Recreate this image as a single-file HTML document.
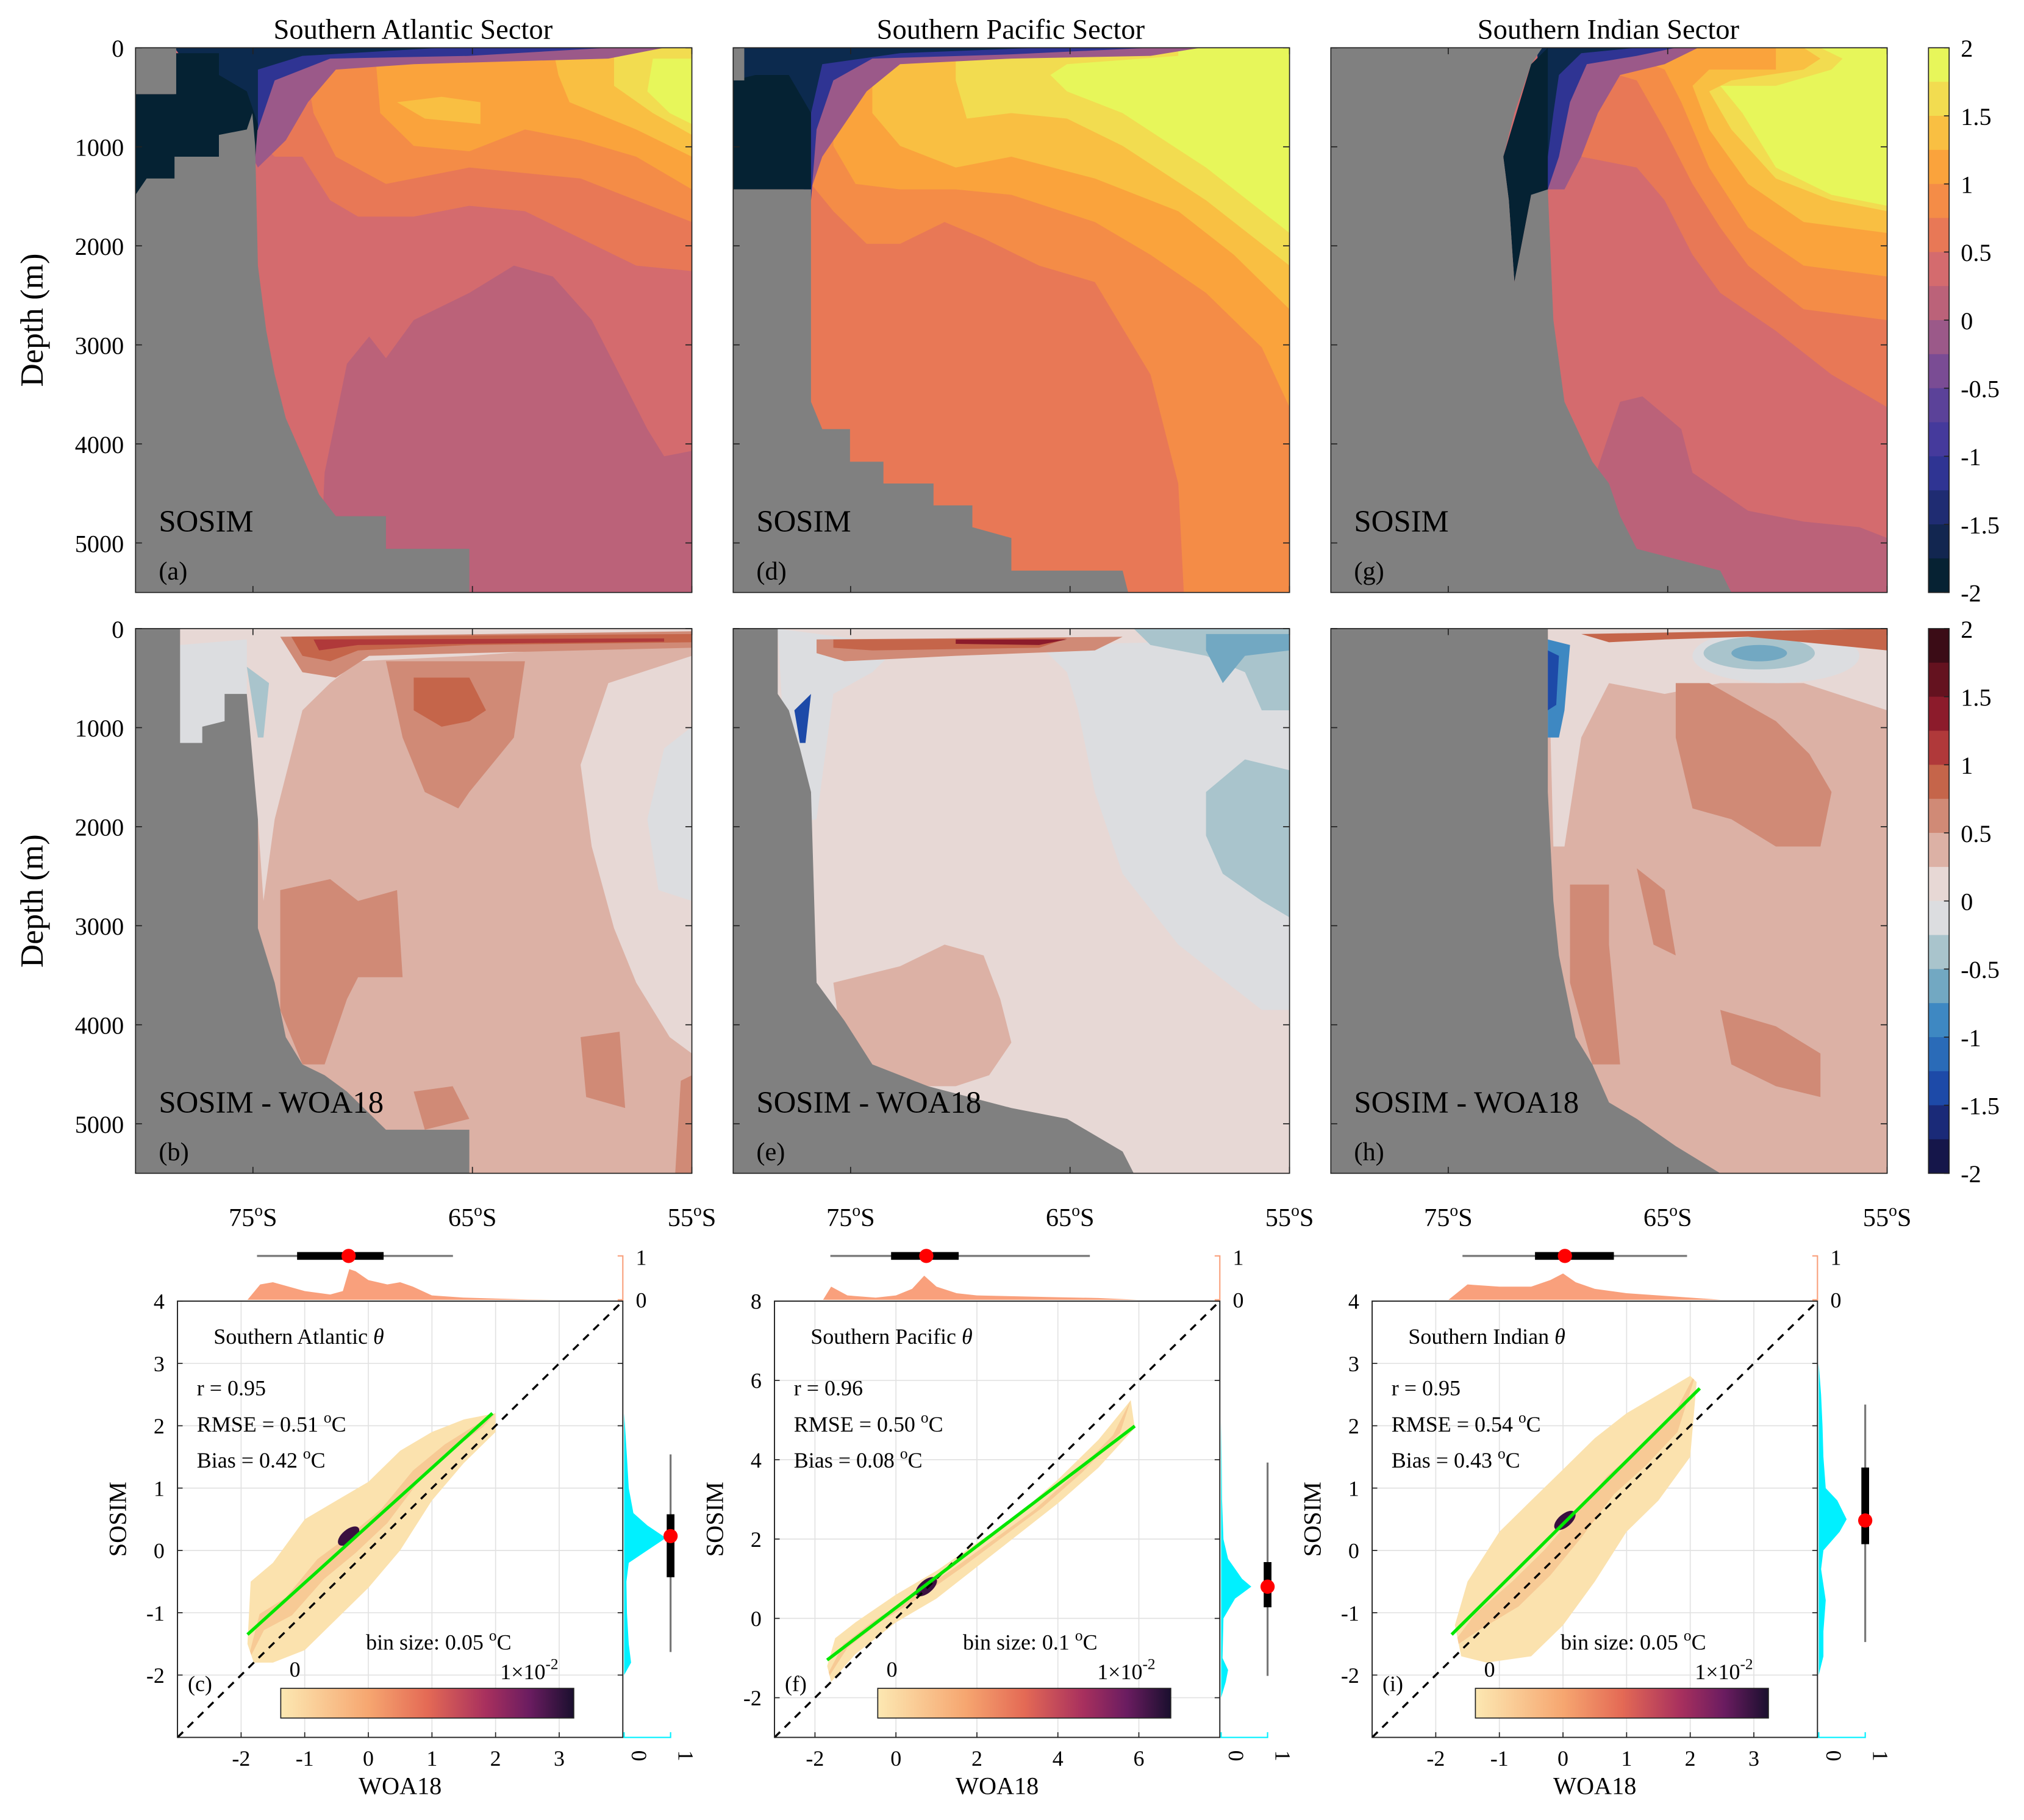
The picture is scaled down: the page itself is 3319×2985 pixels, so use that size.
<!DOCTYPE html>
<html><head><meta charset="utf-8"><style>
html,body{margin:0;padding:0;background:#fff;}
svg{display:block;font-family:"Liberation Serif",serif;}
text{font-family:"Liberation Serif",serif;fill:#000;}
</style></head><body>
<svg id="fig" xmlns="http://www.w3.org/2000/svg" width="3319" height="2985" viewBox="0 0 1568 1410" preserveAspectRatio="none" font-family="Liberation Serif, serif"></svg>
<script>
// ---------- data: scatter stats ----------
const atlStats = ["r = 0.95","RMSE = 0.51","Bias = 0.42","bin size: 0.05"];
const pacStats = ["r = 0.96","RMSE = 0.50","Bias = 0.08","bin size: 0.1"];
const indStats = ["r = 0.95","RMSE = 0.54","Bias = 0.43","bin size: 0.05"];
// fit lines [x1,y1,x2,y2]
const atlFit = [-1.9,-1.35,1.95,2.2];
const pacFit = [-1.7,-1.05,5.9,4.85];
const indFit = [-1.75,-1.35,2.15,2.6];
// density clouds (data coords)
const atlCloud = [[-1.9,-1.5],[-1.85,-0.5],[-1.5,-0.2],[-1,0.5],[-0.5,0.8],[0,1.1],[0.5,1.6],[1,1.9],[1.5,2.1],[2,2.2],[2,1.9],[1.5,1.4],[1,0.8],[0.5,0.0],[0,-0.6],[-0.5,-1.1],[-1,-1.6],[-1.5,-1.8],[-1.8,-1.8]];
const pacCloud = [[-1.7,-1.2],[-1.5,-0.5],[-1,-0.1],[0,0.6],[1,1.2],[2,1.9],[3,2.6],[4,3.5],[5,4.5],[5.8,5.5],[5.9,4.8],[5,3.8],[4,2.9],[3,2.1],[2,1.3],[1,0.5],[0,-0.1],[-1,-0.9],[-1.6,-1.6]];
const indCloud = [[-1.7,-1.2],[-1.5,-0.5],[-1,0.3],[-0.5,0.8],[0,1.3],[0.5,1.8],[1,2.2],[1.5,2.5],[2,2.8],[2.1,2.7],[2,1.5],[1.5,0.8],[1,0.3],[0.5,-0.5],[0,-1.2],[-0.5,-1.7],[-1.2,-1.8],[-1.6,-1.7]];
// boxplots [whiskerLo, boxLo, median, boxHi, whiskerHi]
const atlBoxX = [-1.75,-1.12,-0.31,0.24,1.33];
const atlBoxY = [-1.63,-0.43,0.23,0.58,1.54];
const pacBoxX = [-1.62,-0.12,0.75,1.55,4.79];
const pacBoxY = [-1.45,0.28,0.8,1.42,3.93];
const indBoxX = [-1.58,-0.44,0.03,0.8,1.95];
const indBoxY = [-1.47,0.1,0.48,1.33,2.34];
// marginal densities
const atlTopX = [-1.9,-1.7,-1.5,-1,-0.6,-0.4,-0.3,-0.2,0,0.3,0.5,0.7,1,1.5,2,2.5,3,4];
const atlTopD = [0,0.35,0.4,0.2,0.12,0.2,0.7,0.65,0.45,0.35,0.4,0.3,0.1,0.05,0.03,0.01,0,0];
const pacTopX = [-1.8,-1.6,-1.2,-0.5,0,0.4,0.7,1,1.5,2,3,4,5,6];
const pacTopD = [0,0.3,0.1,0.05,0.1,0.25,0.55,0.3,0.15,0.1,0.08,0.06,0.04,0];
const indTopX = [-1.8,-1.5,-1,-0.5,-0.2,0,0.2,0.5,1,1.5,2,2.5];
const indTopD = [0,0.35,0.3,0.3,0.45,0.6,0.4,0.25,0.15,0.1,0.05,0];
const atlRightY = [-2,-1.8,-1.5,-1,-0.5,-0.2,0,0.2,0.4,0.6,1,1.5,2,2.2];
const atlRightD = [0,0.15,0.1,0.06,0.05,0.1,0.5,0.9,0.5,0.2,0.1,0.06,0.02,0];
const pacRightY = [-2,-1.6,-1.3,-1,0,0.5,0.8,1,1.5,2,3,4,5,6];
const pacRightD = [0,0.1,0.15,0.03,0.05,0.3,0.65,0.45,0.15,0.05,0.02,0.01,0,0];
const indRightY = [-2,-1.7,-1.3,-0.8,-0.3,0,0.3,0.5,0.8,1,1.5,2,2.5,3];
const indRightD = [0,0.1,0.1,0.15,0.05,0.1,0.45,0.6,0.4,0.15,0.1,0.08,0.05,0];
// tick labels
const depthTicks = [0,1000,2000,3000,4000,5000];
const latTicks = [75,65,55];
const cbarTicks = ["2","1.5","1","0.5","0","-0.5","-1","-1.5","-2"];
const atlTicksX = [-2,-1,0,1,2,3];
const atlTicksY = [-2,-1,0,1,2,3,4];
const pacTicksX = [-2,0,2,4,6];
const pacTicksY = [-2,0,2,4,6,8];
const cbTop = ["#e7f65a","#f2dc50","#f9bf42","#faa33c","#f48c47","#e87856","#d46b6e","#bb6279","#9b5989","#7a4c94","#5b4299","#453a9c","#2f3493","#1f2c72","#122650","#062233"];
const cbDiff = ["#3b0c16","#64121f","#8c1b2b","#b0393a","#c5654a","#d08a76","#dcb1a5","#e7d8d5","#dcdde0","#a9c4cc","#72a8c2","#3e88c2","#2a6bb8","#1d4aa8","#1a2a78","#15164a"];

const NS="http://www.w3.org/2000/svg";
const svg=document.getElementById('fig');
function mk(tag,attrs,name,inter,parent){
  const e=document.createElementNS(NS,tag);
  for(const k in attrs) e.setAttribute(k,attrs[k]);
  
  
  (parent||svg).appendChild(e);
  return e;
}
function txt(x,y,s,size,name,opts){
  opts=opts||{};
  const t=mk('text',{x:x,y:y,'font-size':size,'font-family':'Liberation Serif, serif','text-anchor':opts.anchor||'start',fill:opts.fill||'#000'},name,false,opts.parent);
  if(opts.rot) t.setAttribute('transform','rotate('+opts.rot+' '+x+' '+y+')');
  if(opts.html) t.innerHTML=s; else t.textContent=s;
  return t;
}

// ---------- contour panels ----------
const W=431,H=422;
function panel(x0,y0,name,layers){
  const g=mk('g',{},name,false);
  for(const L of layers){
    if(L[1]==='full'){ mk('rect',{x:x0,y:y0,width:W,height:H,fill:L[0]},'contour-fill',false,g); continue; }
    if(L[1]==='ell'){ mk('ellipse',{cx:x0+L[2]*W,cy:y0+L[3]*H,rx:L[4]*W,ry:L[5]*H,fill:L[0]},'contour-fill',false,g); continue; }
    const pts=L[1].map(p=>(x0+p[0]*W).toFixed(1)+','+(y0+p[1]*H).toFixed(1)).join(' ');
    mk('polygon',{points:pts,fill:L[0]},L[0]==='#808080'?'seafloor-land':'contour-fill',false,g);
  }
  mk('rect',{x:x0,y:y0,width:W,height:H,fill:'none',stroke:'#222','stroke-width':0.8},'panel-frame',false,g);
  for(const d of depthTicks){
    const y=y0+d/5500*H;
    mk('line',{x1:x0,y1:y,x2:x0+5,y2:y,stroke:'#222','stroke-width':0.8},'y-tick',false,g);
    mk('line',{x1:x0+W,y1:y,x2:x0+W-5,y2:y,stroke:'#222','stroke-width':0.8},'y-tick',false,g);
  }
  for(const lat of latTicks){
    const x=x0+(80.35-lat)/25.35*W;
    mk('line',{x1:x,y1:y0,x2:x,y2:y0+5,stroke:'#222','stroke-width':0.8},'x-tick',false,g);
    mk('line',{x1:x,y1:y0+H,x2:x,y2:y0+H-5,stroke:'#222','stroke-width':0.8},'x-tick',false,g);
  }
  return g;
}
const P=[105,568,1031], TY=37, MY=487;

panel(P[0],TY,'panel-a-atlantic',[
 ['#d46b6e','full'],
 ['#bb6279',[[0.33,1],[0.34,0.78],[0.38,0.58],[0.42,0.53],[0.45,0.57],[0.5,0.5],[0.6,0.45],[0.68,0.4],[0.75,0.42],[0.82,0.5],[0.87,0.6],[0.92,0.7],[0.95,0.75],[1,0.74],[1,1]]],
 ['#e87856',[[0.22,0],[1,0],[1,0.41],[0.9,0.4],[0.8,0.35],[0.7,0.3],[0.6,0.29],[0.5,0.31],[0.4,0.31],[0.35,0.28],[0.3,0.2],[0.25,0.2],[0.22,0.17]]],
 ['#f48c47',[[0.3,0],[1,0],[1,0.32],[0.9,0.28],[0.8,0.24],[0.7,0.23],[0.6,0.22],[0.45,0.25],[0.36,0.2],[0.32,0.12]]],
 ['#faa33c',[[0.43,0],[1,0],[1,0.26],[0.9,0.2],[0.8,0.17],[0.7,0.15],[0.6,0.19],[0.5,0.18],[0.44,0.12]]],
 ['#f9bf42',[[0.47,0.1],[0.55,0.09],[0.62,0.1],[0.62,0.14],[0.52,0.13]]],
 ['#f9bf42',[[0.75,0],[1,0],[1,0.2],[0.9,0.15],[0.78,0.1],[0.76,0.05]]],
 ['#f2dc50',[[0.86,0],[1,0],[1,0.16],[0.93,0.12],[0.86,0.07]]],
 ['#e7f65a',[[0.93,0.02],[1,0.02],[1,0.14],[0.96,0.12],[0.92,0.08]]],
 ['#9b5989',[[0.07,0],[0.95,0],[0.85,0.02],[0.5,0.03],[0.36,0.04],[0.31,0.1],[0.27,0.17],[0.22,0.22],[0.2,0.18]]],
 ['#2f3493',[[0.07,0],[0.85,0],[0.6,0.015],[0.35,0.02],[0.25,0.06],[0.22,0.15],[0.2,0.18]]],
 ['#0c2a4e',[[0.07,0],[0.55,0],[0.3,0.015],[0.22,0.04],[0.22,0.15],[0.2,0.18]]],
 ['#052233',[[0,0.085],[0.07,0.085],[0.07,0.01],[0.15,0.01],[0.15,0.05],[0.2,0.08],[0.22,0.14],[0.21,0.27],[0,0.27]]],
 ['#808080',[[0,0],[0.073,0],[0.073,0.085],[0,0.085]]],
 ['#808080',[[0,0.27],[0.02,0.24],[0.07,0.24],[0.07,0.2],[0.15,0.2],[0.15,0.16],[0.2,0.15],[0.21,0.12],[0.215,0.18],[0.22,0.4],[0.235,0.52],[0.25,0.6],[0.27,0.68],[0.3,0.75],[0.33,0.82],[0.36,0.86],[0.45,0.86],[0.45,0.92],[0.6,0.92],[0.6,1],[0,1]]]
]);
panel(P[1],TY,'panel-d-pacific',[
 ['#e87856','full'],
 ['#f48c47',[[0.81,1],[0.8,0.8],[0.75,0.6],[0.65,0.43],[0.55,0.4],[0.45,0.35],[0.38,0.32],[0.3,0.36],[0.24,0.36],[0.18,0.3],[0.14,0.25],[0.14,0],[1,0],[1,1]]],
 ['#faa33c',[[1,0.66],[0.95,0.55],[0.85,0.45],[0.75,0.38],[0.65,0.32],[0.5,0.27],[0.4,0.26],[0.3,0.26],[0.22,0.25],[0.18,0.18],[0.18,0],[1,0]]],
 ['#f9bf42',[[1,0.48],[0.9,0.38],[0.8,0.3],[0.65,0.24],[0.5,0.2],[0.4,0.22],[0.3,0.18],[0.25,0.12],[0.25,0],[1,0]]],
 ['#f2dc50',[[1,0.40],[0.85,0.28],[0.7,0.18],[0.6,0.13],[0.5,0.12],[0.42,0.13],[0.4,0.06],[0.4,0],[1,0]]],
 ['#e7f65a',[[1,0.34],[0.85,0.22],[0.7,0.12],[0.6,0.08],[0.57,0.05],[0.6,0.03],[0.8,0.015],[0.8,0],[1,0]]],
 ['#9b5989',[[0.02,0],[0.84,0],[0.75,0.015],[0.5,0.02],[0.3,0.03],[0.24,0.08],[0.2,0.14],[0.16,0.2],[0.14,0.26],[0.02,0.1]]],
 ['#2f3493',[[0.02,0],[0.75,0],[0.5,0.012],[0.25,0.02],[0.18,0.06],[0.15,0.15],[0.14,0.28],[0.02,0.1]]],
 ['#0c2a4e',[[0.02,0],[0.55,0],[0.3,0.01],[0.16,0.03],[0.14,0.12],[0.02,0.1]]],
 ['#052233',[[0,0.06],[0.04,0.05],[0.1,0.05],[0.14,0.12],[0.14,0.26],[0,0.26]]],
 ['#808080',[[0,0],[0.02,0],[0.02,0.06],[0,0.06]]],
 ['#808080',[[0,0.26],[0.14,0.26],[0.14,0.65],[0.16,0.7],[0.21,0.7],[0.21,0.76],[0.27,0.76],[0.27,0.8],[0.36,0.8],[0.36,0.84],[0.43,0.84],[0.43,0.88],[0.5,0.9],[0.5,0.96],[0.7,0.96],[0.71,1],[0,1]]]
]);
panel(P[2],TY,'panel-g-indian',[
 ['#d46b6e','full'],
 ['#bb6279',[[0.48,1],[0.48,0.77],[0.52,0.65],[0.56,0.64],[0.63,0.7],[0.65,0.78],[0.75,0.85],[0.85,0.87],[0.95,0.88],[1,0.9],[1,1]]],
 ['#e87856',[[1,0.66],[0.9,0.6],[0.8,0.52],[0.7,0.45],[0.65,0.38],[0.6,0.28],[0.55,0.22],[0.45,0.2],[0.4,0.15],[0.4,0],[1,0]]],
 ['#f48c47',[[1,0.5],[0.85,0.48],[0.75,0.4],[0.7,0.33],[0.65,0.25],[0.6,0.15],[0.55,0.06],[0.45,0.03],[0.45,0],[1,0]]],
 ['#faa33c',[[1,0.42],[0.85,0.4],[0.75,0.33],[0.68,0.22],[0.63,0.1],[0.6,0.04],[0.55,0.02],[0.55,0],[1,0]]],
 ['#f9bf42',[[1,0.34],[0.85,0.32],[0.75,0.25],[0.68,0.15],[0.65,0.07],[0.68,0.04],[0.8,0.04],[0.8,0],[1,0]]],
 ['#f2dc50',[[1,0.3],[0.9,0.28],[0.8,0.24],[0.72,0.15],[0.68,0.08],[0.72,0.06],[0.85,0.04],[0.88,0.02],[0.85,0],[1,0]]],
 ['#e7f65a',[[1,0.29],[0.9,0.27],[0.8,0.22],[0.74,0.12],[0.7,0.07],[0.8,0.07],[0.9,0.04],[0.92,0.02],[0.88,0],[1,0]]],
 ['#9b5989',[[0.37,0],[0.66,0],[0.6,0.03],[0.52,0.05],[0.48,0.12],[0.45,0.2],[0.42,0.26],[0.39,0.26]]],
 ['#2f3493',[[0.37,0],[0.62,0],[0.55,0.015],[0.46,0.03],[0.43,0.1],[0.41,0.2],[0.39,0.26]]],
 ['#0c2a4e',[[0.37,0],[0.55,0],[0.45,0.01],[0.41,0.05],[0.4,0.12],[0.39,0.2]]],
 ['#052233',[[0.31,0.2],[0.36,0.03],[0.39,0],[0.39,0.27],[0.36,0.27],[0.33,0.43],[0.32,0.28]]],
 ['#808080',[[0,0],[0.38,0],[0.36,0.03],[0.33,0.12],[0.31,0.2],[0.32,0.28],[0.33,0.43],[0.36,0.27],[0.39,0.26],[0.4,0.5],[0.42,0.65],[0.47,0.76],[0.5,0.8],[0.52,0.86],[0.55,0.92],[0.7,0.96],[0.72,1],[0,1]]]
]);
panel(P[0],MY,'panel-b-atlantic-diff',[
 ['#dcb1a5','full'],
 ['#e7d8d5',[[0.08,0],[1,0],[1,0.02],[0.6,0.05],[0.4,0.06],[0.35,0.1],[0.3,0.15],[0.25,0.35],[0.23,0.5],[0.22,0.35],[0.08,0.35]]],
 ['#dcdde0',[[0.08,0.03],[0.2,0.02],[0.2,0.2],[0.15,0.28],[0.08,0.22]]],
 ['#a9c4cc',[[0.2,0.07],[0.24,0.1],[0.23,0.2],[0.22,0.2]]],
 ['#e7d8d5',[[1,0.05],[0.85,0.1],[0.8,0.25],[0.82,0.4],[0.86,0.55],[0.9,0.65],[0.96,0.75],[1,0.78]]],
 ['#dcdde0',[[1,0.18],[0.95,0.22],[0.92,0.35],[0.94,0.48],[1,0.5]]],
 ['#d08a76',[[0.45,0.06],[0.7,0.06],[0.68,0.2],[0.6,0.3],[0.58,0.33],[0.52,0.3],[0.48,0.2]]],
 ['#c5654a',[[0.5,0.09],[0.6,0.09],[0.63,0.15],[0.6,0.17],[0.55,0.18],[0.5,0.15]]],
 ['#d08a76',[[0.26,0.015],[1,0.005],[1,0.035],[0.6,0.045],[0.42,0.05],[0.36,0.09],[0.3,0.08]]],
 ['#c5654a',[[0.28,0.015],[1,0.01],[1,0.025],[0.6,0.03],[0.4,0.04],[0.35,0.06],[0.3,0.05]]],
 ['#b0393a',[[0.32,0.02],[0.95,0.018],[0.95,0.024],[0.4,0.03],[0.33,0.04]]],
 ['#d08a76',[[0.26,0.48],[0.35,0.46],[0.4,0.5],[0.47,0.48],[0.48,0.64],[0.4,0.64],[0.38,0.68],[0.34,0.8],[0.3,0.8],[0.26,0.7]]],
 ['#d08a76',[[0.8,0.75],[0.87,0.74],[0.88,0.88],[0.81,0.86]]],
 ['#d08a76',[[0.5,0.85],[0.57,0.84],[0.6,0.9],[0.52,0.92]]],
 ['#d08a76',[[0.98,0.83],[1,0.82],[1,1],[0.97,1]]],
 ['#808080',[[0,0],[0.08,0],[0.08,0.21],[0.12,0.21],[0.12,0.18],[0.16,0.17],[0.16,0.12],[0.2,0.12],[0.22,0.35],[0.22,0.55],[0.25,0.65],[0.27,0.75],[0.3,0.8],[0.34,0.82],[0.38,0.85],[0.45,0.92],[0.6,0.92],[0.6,1],[0,1]]]
]);
panel(P[1],MY,'panel-e-pacific-diff',[
 ['#e7d8d5','full'],
 ['#dcdde0',[[0.55,0.03],[1,0.02],[1,0.7],[0.95,0.7],[0.9,0.66],[0.8,0.58],[0.7,0.45],[0.65,0.3],[0.62,0.15],[0.6,0.08]]],
 ['#dcdde0',[[0.08,0],[0.3,0.03],[0.25,0.08],[0.18,0.12],[0.15,0.35],[0.1,0.36]]],
 ['#a9c4cc',[[0.72,0],[1,0],[1,0.15],[0.95,0.15],[0.92,0.08],[0.85,0.05],[0.75,0.03]]],
 ['#72a8c2',[[0.85,0.01],[1,0.01],[1,0.04],[0.92,0.05],[0.88,0.1],[0.85,0.04]]],
 ['#a9c4cc',[[0.85,0.3],[0.92,0.24],[1,0.26],[1,0.53],[0.95,0.5],[0.88,0.45],[0.85,0.38]]],
 ['#dcb1a5',[[0.18,0.65],[0.3,0.62],[0.38,0.58],[0.45,0.6],[0.48,0.68],[0.5,0.76],[0.46,0.82],[0.4,0.84],[0.3,0.84],[0.2,0.8]]],
 ['#d08a76',[[0.15,0.02],[0.7,0.015],[0.65,0.04],[0.4,0.05],[0.2,0.06],[0.15,0.045]]],
 ['#c5654a',[[0.18,0.02],[0.6,0.018],[0.55,0.035],[0.25,0.04],[0.18,0.035]]],
 ['#8c1b2b',[[0.4,0.02],[0.6,0.02],[0.55,0.03],[0.4,0.028]]],
 ['#1d4aa8',[[0.11,0.15],[0.14,0.12],[0.13,0.21],[0.12,0.21]]],
 ['#808080',[[0,0],[0.08,0],[0.08,0.12],[0.1,0.15],[0.12,0.22],[0.14,0.3],[0.15,0.65],[0.2,0.72],[0.25,0.8],[0.35,0.84],[0.5,0.88],[0.6,0.9],[0.7,0.96],[0.72,1],[0,1]]]
]);
panel(P[2],MY,'panel-h-indian-diff',[
 ['#dcb1a5','full'],
 ['#e7d8d5',[[0.39,0],[1,0],[1,0.15],[0.85,0.1],[0.7,0.1],[0.6,0.12],[0.5,0.1],[0.45,0.2],[0.42,0.4],[0.4,0.4]]],
 ['#dcdde0','ell',0.8,0.05,0.15,0.05],
 ['#a9c4cc','ell',0.77,0.045,0.1,0.03],
 ['#72a8c2','ell',0.77,0.045,0.05,0.015],
 ['#c5654a',[[0.45,0.01],[1,0],[1,0.04],[0.75,0.015],[0.6,0.02],[0.5,0.025]]],
 ['#3e88c2',[[0.39,0.02],[0.43,0.03],[0.42,0.15],[0.41,0.2],[0.39,0.2]]],
 ['#1d4aa8',[[0.39,0.04],[0.41,0.05],[0.405,0.14],[0.39,0.15]]],
 ['#d08a76',[[0.62,0.1],[0.68,0.1],[0.8,0.17],[0.86,0.23],[0.9,0.3],[0.88,0.4],[0.8,0.4],[0.72,0.35],[0.65,0.33],[0.62,0.2]]],
 ['#d08a76',[[0.43,0.47],[0.5,0.47],[0.5,0.58],[0.52,0.8],[0.47,0.8],[0.43,0.65]]],
 ['#d08a76',[[0.55,0.44],[0.6,0.48],[0.62,0.6],[0.58,0.58]]],
 ['#d08a76',[[0.7,0.7],[0.8,0.73],[0.88,0.78],[0.88,0.86],[0.8,0.84],[0.72,0.8]]],
 ['#808080',[[0,0],[0.39,0],[0.39,0.3],[0.4,0.5],[0.41,0.6],[0.44,0.75],[0.47,0.8],[0.5,0.87],[0.55,0.9],[0.62,0.95],[0.7,1],[0,1]]]
]);

// titles & labels
txt(320,30,'Southern Atlantic Sector',22,'title-atlantic',{anchor:'middle'});
txt(783,30,'Southern Pacific Sector',22,'title-pacific',{anchor:'middle'});
txt(1246,30,'Southern Indian Sector',22,'title-indian',{anchor:'middle'});
txt(33,248,'Depth (m)',25,'y-axis-title-top',{anchor:'middle',rot:-90});
txt(33,698,'Depth (m)',25,'y-axis-title-mid',{anchor:'middle',rot:-90});
for(const y0 of [TY,MY]) for(const d of depthTicks)
  txt(96,y0+d/5500*H+7,String(d),19,'y-tick-label',{anchor:'end'});
const letters=[['(a)','(d)','(g)'],['(b)','(e)','(h)']];
for(let i=0;i<3;i++){
  txt(P[i]+18,412,'SOSIM',24,'panel-label-sosim');
  txt(P[i]+18,449,letters[0][i],20,'panel-letter');
  txt(P[i]+18,862,'SOSIM - WOA18',24,'panel-label-diff');
  txt(P[i]+18,899,letters[1][i],20,'panel-letter');
  for(const lat of latTicks){
    const x=P[i]+(80.35-lat)/25.35*W;
    txt(x,950,lat+'<tspan dy="-8" font-size="13">o</tspan><tspan dy="8">S</tspan>',20,'x-tick-label',{anchor:'middle',html:true});
  }
}
// colorbars
function cbar(y0,cols,name){
  const g=mk('g',{},name,false);
  const h=422/cols.length;
  cols.forEach((c,i)=>mk('rect',{x:1494,y:y0+i*h,width:16,height:h+0.3,fill:c},'colorbar-bin',false,g));
  mk('rect',{x:1494,y:y0,width:16,height:422,fill:'none',stroke:'#222','stroke-width':0.8},'colorbar-frame',false,g);
  cbarTicks.forEach((t,i)=>{
    const y=y0+i*422/8;
    mk('line',{x1:1510,y1:y,x2:1506,y2:y,stroke:'#222','stroke-width':0.8},'colorbar-tick',false,g);
    txt(1519,y+7,t,19,'colorbar-tick-label',{parent:g});
  });
}
cbar(TY,cbTop,'colorbar-temperature');
cbar(MY,cbDiff,'colorbar-difference');

// ---------- scatter panels ----------
function scatter(o){
  const g=mk('g',{},o.name,false);
  const X0=o.px,X1=o.px+345,Y0=1008,Y1=1346;
  const sx=v=>X0+(v-o.xd[0])/(o.xd[1]-o.xd[0])*(X1-X0);
  const sy=v=>Y1-(v-o.yd[0])/(o.yd[1]-o.yd[0])*(Y1-Y0);
  mk('rect',{x:X0,y:Y0,width:X1-X0,height:Y1-Y0,fill:'#fff'},'plot-area',false,g);
  for(const t of o.tx){ mk('line',{x1:sx(t),y1:Y0,x2:sx(t),y2:Y1,stroke:'#e2e2e2','stroke-width':0.8},'grid-line',false,g);
    txt(sx(t),Y1+22,String(t),17,'x-tick-label',{anchor:'middle',parent:g});
    mk('line',{x1:sx(t),y1:Y1,x2:sx(t),y2:Y1-4,stroke:'#222','stroke-width':0.8},'x-tick',false,g);}
  for(const t of o.ty){ mk('line',{x1:X0,y1:sy(t),x2:X1,y2:sy(t),stroke:'#e2e2e2','stroke-width':0.8},'grid-line',false,g);
    txt(X0-10,sy(t)+6,String(t),17,'y-tick-label',{anchor:'end',parent:g});
    mk('line',{x1:X0,y1:sy(t),x2:X0+4,y2:sy(t),stroke:'#222','stroke-width':0.8},'y-tick',false,g);
    mk('line',{x1:X1,y1:sy(t),x2:X1-4,y2:sy(t),stroke:'#222','stroke-width':0.8},'y-tick',false,g);}
  // cloud
  const cp=o.cloud.map(p=>sx(p[0]).toFixed(1)+','+sy(p[1]).toFixed(1)).join(' ');
  mk('polygon',{points:cp,fill:'#fbe2ae'},'density-cloud',false,g);
  const n=o.cloud.length;
  const inner=o.cloud.map((p,i)=>{const q=o.cloud[n-1-i];return [(p[0]*0.6+q[0]*0.4),(p[1]*0.6+q[1]*0.4)];});
  mk('polygon',{points:inner.map(p=>sx(p[0]).toFixed(1)+','+sy(p[1]).toFixed(1)).join(' '),fill:'#f6c48e',opacity:0.8},'density-core',false,g);
  const mx=(o.box[2]), my=(o.boxY[2]);
  mk('ellipse',{cx:sx(mx),cy:sy(my),rx:10,ry:5,fill:'#3a1040',transform:'rotate(-40 '+sx(mx)+' '+sy(my)+')'},'density-peak',false,g);
  // diagonal
  const lo=Math.max(o.xd[0],o.yd[0]),hi=Math.min(o.xd[1],o.yd[1]);
  mk('line',{x1:sx(lo),y1:sy(lo),x2:sx(hi),y2:sy(hi),stroke:'#000','stroke-width':1.6,'stroke-dasharray':'6,5'},'one-to-one-line',false,g);
  mk('line',{x1:sx(o.fit[0]),y1:sy(o.fit[1]),x2:sx(o.fit[2]),y2:sy(o.fit[3]),stroke:'#00e600','stroke-width':2.5},'fit-line',false,g);
  mk('rect',{x:X0,y:Y0,width:X1-X0,height:Y1-Y0,fill:'none',stroke:'#222','stroke-width':0.9},'plot-frame',false,g);
  // texts
  txt(X0+28,Y0+33,o.title+' <tspan font-style="italic">θ</tspan>',17,'scatter-title',{html:true,parent:g});
  txt(X0+15,Y0+73,o.stats[0],17,'stat-r',{parent:g});
  txt(X0+15,Y0+101,o.stats[1]+' <tspan dy="-7" font-size="12">o</tspan><tspan dy="7">C</tspan>',17,'stat-rmse',{html:true,parent:g});
  txt(X0+15,Y0+129,o.stats[2]+' <tspan dy="-7" font-size="12">o</tspan><tspan dy="7">C</tspan>',17,'stat-bias',{html:true,parent:g});
  txt(X0+146,Y0+270,o.stats[3]+' <tspan dy="-7" font-size="12">o</tspan><tspan dy="7">C</tspan>',17,'bin-size-label',{html:true,parent:g});
  txt(X0+8,Y0+302,o.letter,17,'panel-letter',{parent:g});
  // bin colorbar
  mk('rect',{x:X0+80,y:Y0+300,width:227,height:23,fill:'url(#binGrad)',stroke:'#222','stroke-width':0.8},'density-colorbar',false,g);
  txt(X0+91,Y0+291,'0',17,'density-colorbar-min',{anchor:'middle',parent:g});
  txt(X0+250,Y0+293,'1×10<tspan dy="-8" font-size="12">-2</tspan>',17,'density-colorbar-max',{html:true,parent:g});
  txt((X0+X1)/2,Y1+44,'WOA18',19,'x-axis-title',{anchor:'middle',parent:g});
  txt(X0-40,(Y0+Y1)/2,'SOSIM',19,'y-axis-title',{anchor:'middle',rot:-90,parent:g});
  // top marginal
  const TB=1007,TH=34;
  let tp=o.topX.map((v,i)=>sx(v).toFixed(1)+','+(TB-o.topD[i]*TH).toFixed(1));
  mk('polygon',{points:sx(o.topX[0])+','+TB+' '+tp.join(' ')+' '+sx(o.topX[o.topX.length-1])+','+TB,fill:'#f9a07c'},'top-marginal-density',false,g);
  mk('line',{x1:sx(o.box[0]),y1:973,x2:sx(o.box[4]),y2:973,stroke:'#777','stroke-width':1.5},'top-box-whisker',false,g);
  mk('rect',{x:sx(o.box[1]),y:970,width:sx(o.box[3])-sx(o.box[1]),height:6,fill:'#000'},'top-box',false,g);
  mk('circle',{cx:sx(o.box[2]),cy:973,r:5.5,fill:'#f00'},'top-box-median',false,g);
  mk('polyline',{points:(X1-4)+',973 '+X1+',973 '+X1+','+TB+' '+(X1-4)+','+TB,fill:'none',stroke:'#f9a07c','stroke-width':1},'top-marginal-axis',false,g);
  txt(X1+10,980,'1',17,'top-marginal-tick',{fill:'#f9a07c',parent:g});
  txt(X1+10,1013,'0',17,'top-marginal-tick',{fill:'#f9a07c',parent:g});
  // right marginal
  const RB=X1+1,RW=36;
  let rp=o.rightY.map((v,i)=>(RB+o.rightD[i]*RW).toFixed(1)+','+sy(v).toFixed(1));
  mk('polygon',{points:RB+','+sy(o.rightY[0])+' '+rp.join(' ')+' '+RB+','+sy(o.rightY[o.rightY.length-1]),fill:'#00f0ff'},'right-marginal-density',false,g);
  mk('line',{x1:RB+RW,y1:sy(o.boxY[0]),x2:RB+RW,y2:sy(o.boxY[4]),stroke:'#777','stroke-width':1.5},'right-box-whisker',false,g);
  mk('rect',{x:RB+RW-3,y:sy(o.boxY[3]),width:6,height:sy(o.boxY[1])-sy(o.boxY[3]),fill:'#000'},'right-box',false,g);
  mk('circle',{cx:RB+RW,cy:sy(o.boxY[2]),r:5.5,fill:'#f00'},'right-box-median',false,g);
  mk('polyline',{points:RB+','+(Y1-4)+' '+RB+','+Y1+' '+(RB+RW)+','+Y1+' '+(RB+RW)+','+(Y1-4),fill:'none',stroke:'#00f0ff','stroke-width':1},'right-marginal-axis',false,g);
  txt(RB+6,Y1+10,'0',17,'right-marginal-tick',{fill:'#00f0ff',rot:90,parent:g});
  txt(RB+RW+6,Y1+10,'1',17,'right-marginal-tick',{fill:'#00f0ff',rot:90,parent:g});
}
const defs=mk('defs',{},'defs',false);
const lg=mk('linearGradient',{id:'binGrad',x1:'0',x2:'1',y1:'0',y2:'0'},'bin-gradient',false,defs);
[['0','#fce8b2'],['0.3','#f6a670'],['0.5','#e46a55'],['0.7','#a8305e'],['0.85','#6a1c60'],['1','#1a0f2e']].forEach(s=>mk('stop',{offset:s[0],'stop-color':s[1]},'gradient-stop',false,lg));

scatter({name:'scatter-c-atlantic',px:137.5,xd:[-3,4],yd:[-3,4],tx:atlTicksX,ty:atlTicksY,cloud:atlCloud,fit:atlFit,stats:atlStats,title:'Southern Atlantic',letter:'(c)',box:atlBoxX,boxY:atlBoxY,topX:atlTopX,topD:atlTopD,rightY:atlRightY,rightD:atlRightD});
scatter({name:'scatter-f-pacific',px:600,xd:[-3,8],yd:[-3,8],tx:pacTicksX,ty:pacTicksY,cloud:pacCloud,fit:pacFit,stats:pacStats,title:'Southern Pacific',letter:'(f)',box:pacBoxX,boxY:pacBoxY,topX:pacTopX,topD:pacTopD,rightY:pacRightY,rightD:pacRightD});
scatter({name:'scatter-i-indian',px:1063,xd:[-3,4],yd:[-3,4],tx:atlTicksX,ty:atlTicksY,cloud:indCloud,fit:indFit,stats:indStats,title:'Southern Indian',letter:'(i)',box:indBoxX,boxY:indBoxY,topX:indTopX,topD:indTopD,rightY:indRightY,rightD:indRightD});
</script>
</body></html>
